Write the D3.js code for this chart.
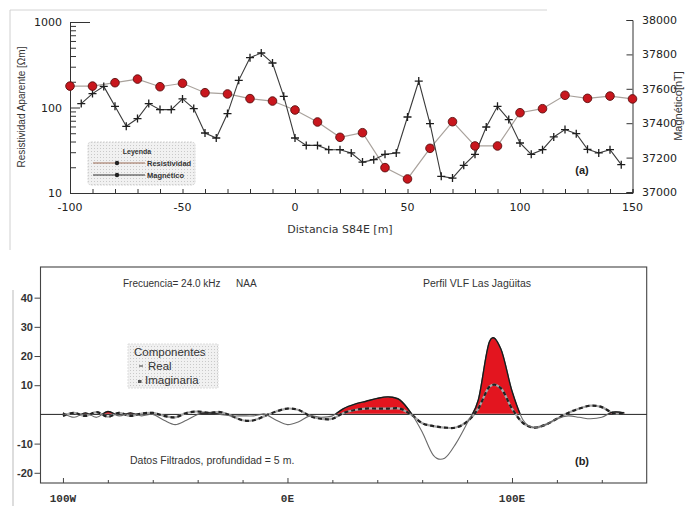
<!DOCTYPE html>
<html>
<head>
<meta charset="utf-8">
<script src="https://cdn.jsdelivr.net/npm/d3@7"></script>
<style>
  html, body { margin: 0; padding: 0; background: #fff; }
  svg { display: block; }
</style>
</head>
<body>
<svg id="chart" width="686" height="506"></svg>
<script>
// ---- Panel (a): apparent resistivity and magnetic field along profile S84E ----
const resDist = [-100, -90, -80, -70, -60, -50, -40, -30, -20, -10, 0, 10, 20, 30, 40, 50, 60, 70, 80, 90, 100, 110, 120, 130, 140, 150];
const resistividad = [178, 178, 195, 215, 175, 192, 149, 144, 127, 119, 93.5, 67.7, 44.8, 50.7, 19.8, 14.6, 33.3, 68.2, 35.5, 35.5, 86.9, 96.8, 139, 128, 136, 126];

const magDist = [-95, -90, -85, -80, -75, -70, -65, -60, -55, -50, -45, -40, -35, -30, -25, -20, -15, -10, -5, 0, 5, 10, 15, 20, 25, 30, 35, 40, 45, 50, 55, 60, 65, 70, 75, 80, 85, 90, 95, 100, 105, 110, 115, 120, 125, 130, 135, 140, 145];
const magnetico = [37514, 37572, 37614, 37498, 37382, 37427, 37514, 37479, 37479, 37541, 37485, 37343, 37314, 37456, 37649, 37781, 37808, 37750, 37556, 37314, 37271, 37271, 37246, 37246, 37227, 37174, 37188, 37219, 37227, 37436, 37645, 37398, 37091, 37081, 37155, 37219, 37378, 37498, 37421, 37285, 37219, 37246, 37320, 37363, 37339, 37248, 37227, 37246, 37159];

const xTicksA = [-100, -50, 0, 50, 100, 150];
const resTicks = [10, 100, 1000];
const magTicks = [37000, 37200, 37400, 37600, 37800, 38000];

// ---- Panel (b): VLF profile, filtered real / imaginary components ----
const vlfDist = [-100, -95, -90, -85, -80, -75, -70, -65, -60, -55, -50, -45, -40, -35, -30, -25, -20, -15, -10, -5, 0, 5, 10, 15, 20, 25, 30, 35, 40, 45, 50, 55, 60, 65, 70, 75, 80, 85, 90, 95, 100, 105, 110, 115, 120, 125, 130, 135, 140, 145, 150];
const vlfReal = [0.5, -1, 0.5, -1, 1, -0.5, 0.5, -0.5, 0, -2, -3.5, -2, 0, 0.5, 0, -0.5, -0.5, -0.5, 0, -2, -3.5, -2.5, -0.5, -1, -0.5, 2, 3.5, 4.5, 5.5, 6, 5, 0.5, -6, -14, -15, -10, -3, 5, 25, 22.5, 8, -2, -4.5, -3.5, -1.5, -0.5, -1, -1.5, -1, 0.8, 0.5];
const vlfImag = [-0.5, 0.5, -0.5, 0.8, -0.8, 0.5, -0.5, 0.3, 0.5, -0.5, -1, 0.5, 1, 0.5, 0.8, -0.5, -2, -2, -0.5, 1, 2, 1.5, -0.5, -1.5, -1.5, 0.5, 1.5, 2, 2, 2, 2, 0, -3, -4, -4.5, -4.5, -2.5, 2, 9.5, 9, 2, -3, -4.5, -3.5, -1.5, 0.5, 2, 3, 2.5, 0.5, 0.5];

const yTicksB = [-20, -10, 10, 20, 30, 40];
const xTicksB = [-100, 0, 100];
const xTickNamesB = ["100W", "0E", "100E"];

const svg = d3.select("#chart");
const SANS = "'DejaVu Sans', sans-serif";
const ARIAL = "'Liberation Sans', Arial, sans-serif";

// page edges of the scanned sheet
svg.append("line").attr("x1", 10).attr("x2", 547).attr("y1", 10).attr("y2", 10)
  .attr("stroke", "#d4d4d4").attr("stroke-width", 1);
svg.append("line").attr("x1", 10).attr("x2", 10).attr("y1", 10).attr("y2", 250)
  .attr("stroke", "#d0d0d0").attr("stroke-width", 1);
svg.append("line").attr("x1", 13).attr("x2", 13).attr("y1", 290).attr("y2", 506)
  .attr("stroke", "#bbb").attr("stroke-width", 1);

// dotted texture for legend boxes
const defs = svg.append("defs");
const pat = defs.append("pattern").attr("id", "dots").attr("width", 3).attr("height", 3)
  .attr("patternUnits", "userSpaceOnUse");
pat.append("rect").attr("width", 3).attr("height", 3).attr("fill", "#f1f1f1");
pat.append("rect").attr("x", 1).attr("y", 1).attr("width", 1).attr("height", 1).attr("fill", "#c9c9c9");

// ================= Panel (a) =================
const xA = d3.scaleLinear().domain([-100, 150]).range([70, 632.5]);
const yRes = d3.scaleLog().domain([10, 1000]).range([193, 22]);
const yMag = d3.scaleLinear().domain([37000, 38000]).range([192, 20]);

const gA = svg.append("g");

// left log axis (ticks inward)
const leftAxis = d3.axisRight(yRes).tickValues(d3.range(1, 10).map(d => d * 10).concat(d3.range(1, 11).map(d => d * 100)))
  .tickSize(6).tickFormat("");
const gL = gA.append("g").attr("transform", `translate(${xA(-100)},0)`).call(leftAxis);
gL.selectAll(".tick line").attr("x2", d => resTicks.includes(d) ? (d === 1000 ? 20 : 10) : 6);
gL.select(".domain").attr("stroke", "#333");
gL.selectAll("line").attr("stroke", "#333");
gA.selectAll(".resLbl").data(resTicks).join("text")
  .attr("x", 62).attr("y", d => yRes(d) + 4).attr("text-anchor", "end")
  .attr("font-family", SANS).attr("font-size", 11).attr("fill", "#222").text(d => d);

// bottom axis (ticks inward)
const bottomAxis = d3.axisTop(xA).tickValues(d3.range(-100, 151, 10)).tickSize(4).tickFormat("");
const gB = gA.append("g").attr("transform", `translate(0,${yRes(10)})`).call(bottomAxis);
gB.selectAll("line, path").attr("stroke", "#333");
gA.selectAll(".xLblA").data(xTicksA).join("text")
  .attr("x", d => xA(d)).attr("y", 211).attr("text-anchor", "middle")
  .attr("font-family", SANS).attr("font-size", 11).attr("fill", "#222").text(d => d);

// right linear axis (ticks inward)
const rightAxis = d3.axisLeft(yMag).tickValues(magTicks).tickSize(6).tickFormat("");
const gR = gA.append("g").attr("transform", `translate(${xA(150)},0)`).call(rightAxis);
gR.selectAll("line, path").attr("stroke", "#333");
gA.selectAll(".magLbl").data(magTicks).join("text")
  .attr("x", 642).attr("y", d => yMag(d) + 4).attr("text-anchor", "start")
  .attr("font-family", SANS).attr("font-size", 11).attr("fill", "#222").text(d => d);

// axis titles
gA.append("text").attr("transform", "translate(25,107) rotate(-90)").attr("text-anchor", "middle")
  .attr("font-family", ARIAL).attr("font-size", 10).attr("fill", "#333").text("Resistividad Aparente [Ωm]");
gA.append("text").attr("transform", "translate(682,106) rotate(-90)").attr("text-anchor", "middle")
  .attr("font-family", ARIAL).attr("font-size", 11).attr("fill", "#333").text("Magnético[nT]");
gA.append("text").attr("x", 340).attr("y", 233).attr("text-anchor", "middle")
  .attr("font-family", SANS).attr("font-size", 11).attr("fill", "#333").text("Distancia S84E [m]");
gA.append("text").attr("x", 582).attr("y", 174).attr("text-anchor", "middle")
  .attr("font-family", ARIAL).attr("font-size", 11).attr("font-weight", "bold").attr("fill", "#222").text("(a)");

// resistivity series
const resPts = resDist.map((d, i) => [d, resistividad[i]]);
gA.append("path").datum(resPts)
  .attr("d", d3.line().x(d => xA(d[0])).y(d => yRes(d[1])))
  .attr("fill", "none").attr("stroke", "#a9a29c").attr("stroke-width", 1.2);

// magnetic series
const magPts = magDist.map((d, i) => [d, magnetico[i]]);
gA.append("path").datum(magPts)
  .attr("d", d3.line().x(d => xA(d[0])).y(d => yMag(d[1])))
  .attr("fill", "none").attr("stroke", "#3a3a3a").attr("stroke-width", 1.1);
gA.selectAll(".plus").data(magPts).join("path")
  .attr("d", d => { const x = xA(d[0]), y = yMag(d[1]); return `M${x - 4},${y}H${x + 4}M${x},${y - 4}V${y + 4}`; })
  .attr("stroke", "#1e1e1e").attr("stroke-width", 1.3);

gA.selectAll(".dot").data(resPts).join("circle")
  .attr("cx", d => xA(d[0])).attr("cy", d => yRes(d[1])).attr("r", 4.3)
  .attr("fill", "#c8161d").attr("stroke", "#5a1010").attr("stroke-width", 0.9);

// legend (a)
const lgA = gA.append("g");
lgA.append("rect").attr("x", 88).attr("y", 142).attr("width", 107).attr("height", 43).attr("rx", 3)
  .attr("fill", "url(#dots)").attr("stroke", "#d6d6d6").attr("stroke-dasharray", "2,1");
lgA.append("text").attr("x", 137).attr("y", 154).attr("text-anchor", "middle")
  .attr("font-family", ARIAL).attr("font-size", 7).attr("font-weight", "bold").attr("fill", "#333").text("Leyenda");
lgA.append("line").attr("x1", 93).attr("x2", 145).attr("y1", 163).attr("y2", 163).attr("stroke", "#9a6a55").attr("stroke-width", 1);
lgA.append("circle").attr("cx", 117).attr("cy", 163).attr("r", 2.2).attr("fill", "#222");
lgA.append("text").attr("x", 147).attr("y", 166).attr("font-family", ARIAL).attr("font-size", 7.5)
  .attr("font-weight", "bold").attr("fill", "#333").text("Resistividad");
lgA.append("line").attr("x1", 93).attr("x2", 145).attr("y1", 175).attr("y2", 175).attr("stroke", "#333").attr("stroke-width", 1);
lgA.append("circle").attr("cx", 117).attr("cy", 175).attr("r", 2.2).attr("fill", "#222");
lgA.append("text").attr("x", 147).attr("y", 178).attr("font-family", ARIAL).attr("font-size", 7.5)
  .attr("font-weight", "bold").attr("fill", "#333").text("Magnético");

// ================= Panel (b) =================
const xB = d3.scaleLinear().domain([-110, 160]).range([40.5, 646.7]);
const yB = d3.scaleLinear().domain([-23.5, 50.5]).range([483, 267]);
const gBp = svg.append("g");

// frame
gBp.append("rect").attr("x", xB(-110)).attr("y", yB(50.5))
  .attr("width", xB(160) - xB(-110)).attr("height", yB(-23.5) - yB(50.5))
  .attr("fill", "none").attr("stroke", "#444").attr("stroke-width", 1.1);

// y axis ticks outward
const yAxB = d3.axisLeft(yB).tickValues(yTicksB).tickSize(6).tickFormat("");
const gYB = gBp.append("g").attr("transform", `translate(${xB(-110)},0)`).call(yAxB);
gYB.select(".domain").remove();
gYB.selectAll("line").attr("stroke", "#444");
gBp.selectAll(".yLblB").data(yTicksB).join("text")
  .attr("x", 33).attr("y", d => yB(d) + 4).attr("text-anchor", "end")
  .attr("font-family", ARIAL).attr("font-size", 11).attr("font-weight", "bold").attr("fill", "#333").text(d => d);

// x ticks inward along the bottom
const xAxB = d3.axisTop(xB).tickValues(d3.range(-100, 151, 20)).tickSize(3).tickFormat("");
const gXB = gBp.append("g").attr("transform", `translate(0,${yB(-23.5)})`).call(xAxB);
gXB.select(".domain").remove();
gXB.selectAll("line").attr("stroke", "#444");
gXB.selectAll(".tick line").attr("y2", d => xTicksB.includes(d) ? -5 : -3);
gBp.selectAll(".xLblB").data(xTicksB).join("text")
  .attr("x", d => xB(d)).attr("y", 502).attr("text-anchor", "middle")
  .attr("font-family", "'Liberation Mono', monospace").attr("font-size", 11).attr("font-weight", "bold")
  .attr("fill", "#333").text((d, i) => xTickNamesB[i]);

const realPts = vlfDist.map((d, i) => [d, vlfReal[i]]);
const imagPts = vlfDist.map((d, i) => [d, vlfImag[i]]);
const curve = d3.curveCardinal.tension(0);

// positive real component shaded red (clipped above the zero line)
defs.append("clipPath").attr("id", "above").append("rect")
  .attr("x", xB(-110)).attr("y", yB(50.5)).attr("width", xB(160) - xB(-110)).attr("height", yB(0) - yB(50.5) - 0.6);
const realLine = d3.line().x(d => xB(d[0])).y(d => yB(d[1])).curve(curve);
gBp.append("path").datum(realPts).attr("clip-path", "url(#above)")
  .attr("d", d3.area().x(d => xB(d[0])).y0(yB(0)).y1(d => yB(d[1])).curve(curve))
  .attr("fill", "#e3151f");

// zero line
gBp.append("line").attr("x1", xB(-110)).attr("x2", xB(160)).attr("y1", yB(0)).attr("y2", yB(0))
  .attr("stroke", "#222").attr("stroke-width", 1);

// imaginary component (heavy dashed)
const imagLine = d3.line().x(d => xB(d[0])).y(d => yB(d[1])).curve(curve);
gBp.append("path").datum(imagPts).attr("d", imagLine)
  .attr("fill", "none").attr("stroke", "#a8a8a8").attr("stroke-width", 2.2);
gBp.append("path").datum(imagPts).attr("d", imagLine)
  .attr("fill", "none").attr("stroke", "#222").attr("stroke-width", 2.2).attr("stroke-dasharray", "4,3");

// real component (thin), outlined darker where positive
gBp.append("path").datum(realPts).attr("d", realLine)
  .attr("fill", "none").attr("stroke", "#6a6a6a").attr("stroke-width", 1.1);
gBp.append("path").datum(realPts).attr("d", realLine).attr("clip-path", "url(#above)")
  .attr("fill", "none").attr("stroke", "#1a1a1a").attr("stroke-width", 1.4);

// annotations
gBp.append("text").attr("x", 123).attr("y", 287).attr("font-family", ARIAL).attr("font-size", 10)
  .attr("fill", "#333").text("Frecuencia= 24.0 kHz");
gBp.append("text").attr("x", 236).attr("y", 287).attr("font-family", ARIAL).attr("font-size", 10)
  .attr("fill", "#333").text("NAA");
gBp.append("text").attr("x", 423).attr("y", 287).attr("font-family", ARIAL).attr("font-size", 10.5)
  .attr("fill", "#333").text("Perfil VLF Las Jagüitas");
gBp.append("text").attr("x", 130).attr("y", 464).attr("font-family", ARIAL).attr("font-size", 10.5)
  .attr("fill", "#333").text("Datos Filtrados, profundidad = 5 m.");
gBp.append("text").attr("x", 582).attr("y", 465).attr("text-anchor", "middle").attr("font-family", ARIAL)
  .attr("font-size", 11).attr("font-weight", "bold").attr("fill", "#222").text("(b)");

// legend (b)
const lgB = gBp.append("g");
lgB.append("rect").attr("x", 128).attr("y", 344).attr("width", 90).attr("height", 44)
  .attr("fill", "url(#dots)").attr("stroke", "#dcdcdc").attr("stroke-dasharray", "2,1");
lgB.append("text").attr("x", 134).attr("y", 356).attr("font-family", ARIAL).attr("font-size", 11.5)
  .attr("fill", "#333").text("Componentes");
lgB.append("line").attr("x1", 139).attr("x2", 143).attr("y1", 366).attr("y2", 366).attr("stroke", "#333").attr("stroke-width", 1);
lgB.append("text").attr("x", 148).attr("y", 370).attr("font-family", ARIAL).attr("font-size", 11.5)
  .attr("fill", "#333").text("Real");
lgB.append("rect").attr("x", 138).attr("y", 380).attr("width", 3.5).attr("height", 3).attr("fill", "#555");
lgB.append("text").attr("x", 145).attr("y", 384).attr("font-family", ARIAL).attr("font-size", 11.5)
  .attr("fill", "#333").text("Imaginaria");
</script>
</body>
</html>
